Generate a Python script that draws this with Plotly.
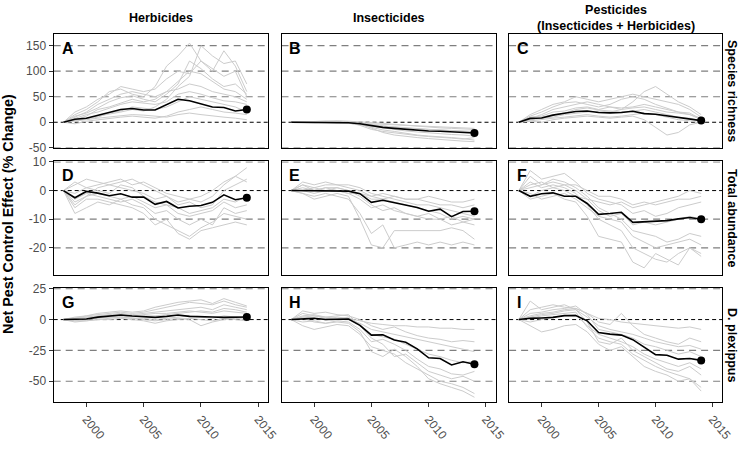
import plotly.graph_objects as go

years = list(range(1998, 2015))
col_titles = ["Herbicides", "Insecticides", "Pesticides<br>(Insecticides + Herbicides)"]
row_titles = ["Species richness", "Total abundance", "D. plexippus"]
panel_letters = ["A", "B", "C", "D", "E", "F", "G", "H", "I"]
x_ticks = [2000, 2005, 2010, 2015]
y_ticks_row1 = [-50, 0, 50, 100, 150]
y_ticks_row2 = [-20, -10, 0, 10]
y_ticks_row3 = [-50, -25, 0, 25]

mean_A = [0, 6, 8, 14, 20, 25, 27, 24, 24, 34, 45, 42, 36, 30, 29, 22, 25]
mean_B = [0, 0, 0, 0, -0.5, -1, -3, -7, -10, -12, -14, -16, -17, -17.5, -18.5, -20, -21]
mean_C = [0, 7.6, 8.2, 14, 17.7, 21, 22, 19, 18.4, 19, 21.5, 17, 15.8, 12.7, 9.5, 7, 3.2]
mean_D = [0, -2.5, -0.3, -0.9, -1.8, -1.1, -2.3, -2.3, -4.8, -3.8, -6.1, -5.5, -5.2, -4.1, -1.5, -3.2, -2.5]
mean_E = [0, 0, -0.2, 0, 0, -0.2, -1.1, -4.1, -3.4, -4.3, -5.1, -5.9, -7.2, -6.5, -9.1, -7.3, -7.2]
mean_F = [0, -2, -1.1, -0.8, -2, -2, -4.5, -8.3, -8, -7.6, -11.1, -10.9, -10.8, -10.5, -9.9, -9.4, -10]
mean_G = [0, 0, 0.5, 2, 3, 3.7, 2.9, 2.6, 1.8, 2.6, 3.7, 2.6, 2.1, 2.1, 1.8, 2.1, 2.1]
mean_H = [0, 0.5, 1, 0, 0.5, 0.5, -4.7, -12.6, -12.4, -16.6, -18.4, -23.7, -31, -31.6, -36.8, -34.2, -36.3]
mean_I = [0, 1, 1.3, 1.8, 3.2, 3.2, -1, -10.5, -11.8, -12.6, -16.3, -22.4, -28.4, -28.9, -32.1, -31.6, -33.1]

grey_A = [
    [0, 10, 20, 35, 45, 55, 60, 55, 50, 60, 80, 100, 95, 80, 65, 60, 45],
    [0, 15, 25, 40, 60, 65, 55, 50, 70, 110, 130, 155, 120, 100, 140, 110, 60],
    [0, 5, 8, 12, 15, 20, 25, 22, 30, 45, 70, 90, 150, 130, 115, 120, 75],
    [0, -3, 2, 5, 8, 10, 12, 10, 8, 12, 20, 25, 30, 25, 20, 18, 15],
    [0, 8, 15, 20, 28, 35, 40, 38, 35, 40, 55, 60, 55, 48, 42, 40, 35],
    [0, 2, 5, 8, 10, 12, 15, 14, 12, 10, 15, 18, 15, 12, 10, 8, 5],
    [0, 20, 30, 45, 55, 70, 65, 60, 65, 85, 100, 95, 120, 105, 90, 100, 50],
    [0, 5, 12, 25, 30, 38, 45, 40, 45, 60, 65, 75, 70, 60, 55, 50, 40],
    [0, 3, 6, 10, 18, 22, 30, 28, 25, 30, 40, 50, 45, 40, 35, 30, 20],
    [0, 12, 18, 28, 40, 48, 52, 45, 40, 55, 75, 120, 105, 85, 70, 75, 55],
]
grey_B = [
    [0, 1, 2, 2, 3, 2, 1, 0, -2, -4, -6, -8, -10, -11, -12, -13, -14],
    [0, 0, 1, 1, 0, -1, -4, -10, -15, -18, -22, -25, -27, -28, -30, -32, -35],
    [0, -1, -1, 0, -1, -2, -5, -8, -12, -14, -17, -19, -21, -22, -24, -25, -27],
    [0, 0, 0, 1, 1, 0, -2, -5, -7, -9, -11, -13, -14, -15, -16, -17, -18],
    [0, 1, 1, 2, 1, 0, -3, -12, -20, -25, -28, -30, -32, -34, -35, -37, -38],
    [0, 0, -1, -1, -2, -2, -4, -6, -8, -10, -12, -13, -14, -15, -17, -18, -20],
    [0, 0, 0, 0, 0, -1, -2, -3, -5, -6, -7, -8, -9, -10, -10, -11, -12],
    [0, 1, 0, 1, 0, -1, -6, -14, -18, -21, -24, -26, -28, -29, -31, -33, -30],
]
grey_C = [
    [0, 15, 25, 35, 40, 50, 45, 40, 45, 50, 55, 50, 45, 40, 35, 25, 10],
    [0, 5, 8, 10, 15, 18, 20, 22, 20, 25, 40, 60, 70, 55, 40, 30, 15],
    [0, 10, 12, 20, 22, 28, 30, 25, 30, 28, 30, 35, 30, 25, 20, 15, 8],
    [0, 2, 0, 5, 8, 10, 12, 10, 8, 10, 12, 5, -10, -25, -20, -5, 0],
    [0, 8, 15, 25, 30, 35, 40, 35, 30, 25, 28, 30, 25, 20, 18, 15, 5],
    [0, 3, 5, 8, 10, 12, 15, 12, 10, 12, 15, 18, 15, 10, 5, 3, -2],
    [0, 12, 20, 30, 38, 40, 35, 30, 35, 45, 50, 45, 35, 28, 20, 18, 6],
    [0, 5, 10, 15, 18, 25, 28, 24, 22, 20, 22, 25, 20, 15, 10, 8, 2],
]
grey_D = [
    [0, -5, -2, 1, 2, 3, 4, 2, 0, -2, -4, -3, -2, 0, 3, 5, 8],
    [0, -8, -6, -4, -5, -3, -5, -6, -10, -12, -14, -16, -13, -11, -8, -9, -10],
    [0, 2, 4, 3, 2, 1, 0, -1, -3, -2, -5, -4, -6, -5, 0, 2, 4],
    [0, -3, -1, -2, -3, -4, -3, -5, -8, -7, -10, -12, -10, -12, -6, -8, -7],
    [0, -1, 1, 0, -1, 2, 1, -2, -4, -5, -6, -8, -7, -6, -3, -4, -2],
    [0, -6, -3, -3, -4, -5, -6, -8, -12, -10, -15, -17, -14, -13, -12, -11, -12],
    [0, 3, 1, 2, 3, 4, 2, 3, 1, -1, -2, -3, -4, -2, 2, 5, 3],
    [0, -4, -2, -1, -2, -3, -2, -4, -6, -5, -8, -9, -8, -7, -4, -6, -5],
]
grey_E = [
    [0, 2, 1, 2, 2, 1, 0, -2, -1, -2, -3, -3, -4, -5, -5, -6, -5],
    [0, -1, -2, -1, -2, -3, -8, -15, -12, -20, -19, -18, -19, -18, -19, -18, -19],
    [0, 3, 2, 3, 2, 2, 1, -1, -2, -3, -4, -5, -5, -6, -7, -8, -9],
    [0, 0, -1, 0, 0, -1, -3, -6, -5, -7, -8, -9, -10, -10, -12, -11, -12],
    [0, -1, -3, -2, -1, -2, -10, -19, -20, -14, -14, -14, -14, -14, -13, -14, -17],
    [0, 1, 0, 1, 1, 0, -1, -3, -3, -4, -5, -6, -7, -8, -10, -9, -10],
    [0, 0, 1, 0, 1, 0, -2, -5, -7, -6, -8, -9, -8, -10, -9, -11, -10],
    [0, 2, 0, 1, 0, -1, -1, -2, -3, -2, -3, -3, -2, -3, -4, -4, -3],
]
grey_F = [
    [0, 5, 2, 4, 3, 1, -2, -6, -8, -10, -14, -15, -16, -18, -17, -15, -16],
    [0, 3, 1, 2, 1, -1, -5, -10, -12, -14, -20, -22, -24, -25, -22, -20, -23],
    [0, -2, 0, 1, 0, -2, -3, -4, -5, -4, -6, -5, -4, -3, -2, 0, -1],
    [0, 7, 4, 5, 6, 3, -1, -3, -4, -5, -8, -7, -9, -8, -6, -5, -4],
    [0, -3, -2, -1, -3, -4, -9, -16, -17, -18, -25, -27, -22, -24, -26, -20, -22],
    [0, 1, 2, 3, 2, 0, -3, -7, -9, -8, -12, -11, -12, -11, -10, -9, -10],
    [0, -1, -3, -2, -1, -3, -6, -9, -10, -11, -16, -18, -20, -19, -18, -17, -19],
    [0, 2, 3, 1, 2, 2, 0, -2, -2, -3, -5, -4, -5, -4, -3, -3, -2],
]
grey_G = [
    [0, 2, 3, 4, 5, 6, 5, 6, 8, 10, 12, 14, 13, 12, 15, 12, 10],
    [0, -2, -1, 0, 1, 2, 1, 0, -1, 0, 1, 0, -5, -2, 0, 1, 0],
    [0, 1, 2, 3, 4, 5, 4, 5, 6, 7, 8, 9, 10, 8, 12, 10, 8],
    [0, 0, 1, 2, 2, 3, 2, 3, 3, 4, 5, 6, 7, 6, 9, 8, 6],
    [0, -1, 0, 1, 2, 2, 1, 1, 0, 1, 2, 3, 2, 1, 3, 2, 1],
    [0, 1, 3, 5, 6, 7, 6, 7, 10, 12, 14, 15, 16, 13, 17, 14, 11],
    [0, -1, -1, 0, 0, 1, 0, -1, -3, -1, 0, 1, 0, -1, 1, 0, -1],
    [0, 1, 2, 2, 3, 4, 3, 4, 5, 5, 6, 7, 6, 5, 7, 6, 5],
]
grey_H = [
    [0, 5, 3, 2, 1, 0, -3, -8, -10, -12, -14, -16, -18, -20, -22, -24, -26],
    [0, -5, -8, -6, -4, -5, -12, -22, -25, -28, -35, -40, -45, -50, -52, -55, -60],
    [0, 2, 1, 0, 2, 1, -1, -3, -4, -5, -5, -6, -6, -7, -7, -8, -8],
    [0, 3, 4, 2, 3, 4, -5, -15, -20, -30, -28, -35, -42, -45, -48, -46, -50],
    [0, 1, -2, -3, -1, -2, -8, -18, -16, -20, -25, -32, -38, -40, -44, -45, -42],
    [0, 7, 5, 6, 4, 3, 0, -5, -8, -6, -10, -13, -15, -16, -18, -17, -18],
    [0, -2, -1, -3, -2, -3, -10, -26, -30, -24, -30, -38, -48, -52, -55, -58, -63],
    [0, 2, 3, 1, 0, 2, -4, -12, -14, -16, -20, -24, -28, -30, -33, -35, -34],
]
grey_I = [
    [0, 15, 8, 10, 12, 8, 2, -5, -8, -10, -12, -15, -18, -20, -22, -21, -24],
    [0, -5, -10, -8, -5, -4, -10, -20, -25, -22, -30, -38, -42, -45, -50, -48, -55],
    [0, 3, 5, 6, 8, 9, 5, 1, 0, -2, -3, -4, -5, -6, -7, -6, -8],
    [0, 2, 4, 5, 7, 8, -2, -18, -20, -15, -25, -30, -35, -40, -42, -38, -45],
    [0, -2, 0, 2, 3, 4, -5, -12, -15, -18, -22, -28, -32, -35, -38, -35, -40],
    [0, 8, 10, 12, 10, 9, 5, -2, -4, 5, -5, -12, -15, -18, -20, -15, -18],
    [0, 1, 3, 4, 5, 6, -6, -15, -18, -20, -28, -33, -38, -42, -45, -48, -58],
    [0, 5, 6, 8, 9, 11, 4, -8, -10, -12, -15, -20, -22, -25, -28, -26, -30],
]

means = [mean_A, mean_B, mean_C, mean_D, mean_E, mean_F, mean_G, mean_H, mean_I]
greys = [grey_A, grey_B, grey_C, grey_D, grey_E, grey_F, grey_G, grey_H, grey_I]
row_ticks = [y_ticks_row1, y_ticks_row2, y_ticks_row3]

W, H = 750, 450
FONT = "Liberation Sans, Arial, sans-serif"
x_dom_px = [(54.5, 272), (285.7, 503), (516.7, 733)]
y_dom_px = [(29.3, 146), (160, 276.7), (290.5, 408)]
y_ranges = [[-50, 172], [-29.4, 10.2], [-67, 25.5]]
x_range = [1997.15, 2015.85]

fig = go.Figure()
layout = {}
shapes = []
annotations = []

for k in range(9):
    r, c = divmod(k, 3)
    sfx = "" if k == 0 else str(k + 1)
    xa, ya = "x" + sfx, "y" + sfx
    for g in greys[k]:
        fig.add_trace(go.Scatter(x=years, y=g, mode="lines", xaxis=xa, yaxis=ya,
                                 line=dict(color="#cccccc", width=1.0),
                                 showlegend=False, hoverinfo="skip"))
    fig.add_trace(go.Scatter(x=years, y=means[k], mode="lines", xaxis=xa, yaxis=ya,
                             line=dict(color="black", width=1.6), showlegend=False))
    fig.add_trace(go.Scatter(x=[years[-1]], y=[means[k][-1]], mode="markers",
                             xaxis=xa, yaxis=ya,
                             marker=dict(color="black", size=8), showlegend=False))
    x0, x1 = x_dom_px[c]
    y0, y1 = y_dom_px[r]
    layout["xaxis" + sfx] = dict(
        domain=[x0 / W, x1 / W], range=x_range, anchor=ya,
        showline=True, mirror=True, linecolor="black", linewidth=1.4,
        showgrid=False, zeroline=False,
        tickvals=x_ticks, ticktext=[str(t) for t in x_ticks],
        showticklabels=(r == 2), ticks="outside" if r == 2 else "",
        ticklen=4, tickcolor="#333333", tickwidth=1,
        tickangle=50, tickfont=dict(family=FONT, size=12, color="#4d4d4d"),
    )
    layout["yaxis" + sfx] = dict(
        domain=[1 - y1 / H, 1 - y0 / H], range=y_ranges[r], anchor=xa,
        showline=True, mirror=True, linecolor="black", linewidth=1.4,
        showgrid=False, zeroline=False,
        tickvals=row_ticks[r], ticktext=[str(t) for t in row_ticks[r]],
        showticklabels=(c == 0), ticks="outside" if c == 0 else "",
        ticklen=4, tickcolor="#333333", tickwidth=1,
        tickfont=dict(family=FONT, size=12, color="#4d4d4d"),
    )
    for t in row_ticks[r]:
        if t == 0:
            shapes.append(dict(type="line", xref=xa + " domain", yref=ya, x0=0, x1=1,
                               y0=0, y1=0, layer="below",
                               line=dict(color="black", width=1, dash="4px,3px")))
        else:
            shapes.append(dict(type="line", xref=xa + " domain", yref=ya, x0=0, x1=1,
                               y0=t, y1=t, layer="below",
                               line=dict(color="#7f7f7f", width=1.2, dash="7px,5px")))
    annotations.append(dict(text="<b>" + panel_letters[k] + "</b>", xref="paper", yref="paper",
                            x=(x0 + 6) / W, y=1 - (y0 + 14.5) / H,
                            xanchor="left", yanchor="middle", showarrow=False,
                            font=dict(family=FONT, size=16, color="black")))

for c in range(3):
    x0, x1 = x_dom_px[c]
    annotations.append(dict(text="<b>" + col_titles[c] + "</b>", xref="paper", yref="paper",
                            x=(x0 + x1) / 2 / W, y=1 - 12.5 / H,
                            xanchor="center", yanchor="middle", showarrow=False,
                            font=dict(family=FONT, size=12.5, color="black")))
for r in range(3):
    y0, y1 = y_dom_px[r]
    annotations.append(dict(text="<b>" + row_titles[r] + "</b>", xref="paper", yref="paper",
                            x=743 / W, y=1 - (y0 + y1) / 2 / H, textangle=90,
                            xanchor="center", yanchor="middle", showarrow=False,
                            font=dict(family=FONT, size=12.5, color="black")))
annotations.append(dict(text="<b>Net Pest Control Effect (% Change)</b>", xref="paper", yref="paper",
                        x=8.3 / W, y=1 - 214 / H, textangle=-90,
                        xanchor="center", yanchor="middle", showarrow=False,
                        font=dict(family=FONT, size=14.4, color="black")))

fig.update_layout(width=W, height=H, margin=dict(l=0, r=0, t=0, b=0),
                  paper_bgcolor="white", plot_bgcolor="white",
                  shapes=shapes, annotations=annotations, showlegend=False,
                  **layout)
fig.write_html("out.html")
